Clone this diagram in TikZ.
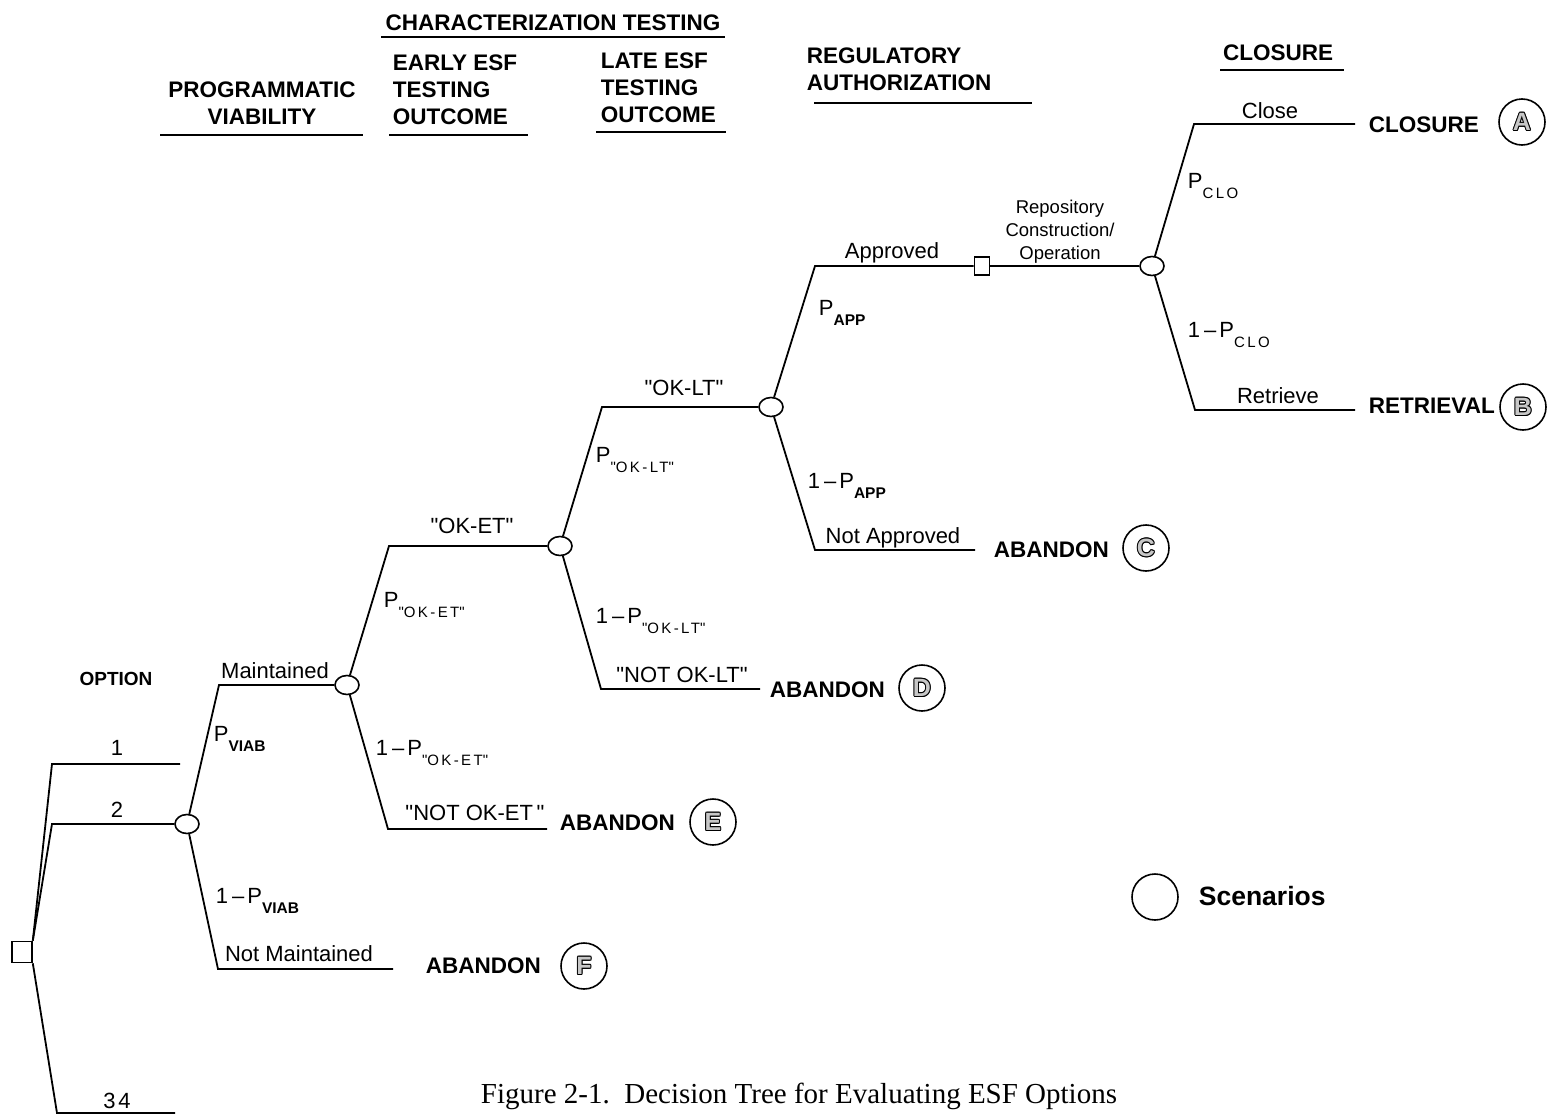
\documentclass[tikz,border=0pt]{standalone}
\usepackage{fontspec}
\setmainfont{Liberation Sans}
\newfontfamily\capfont{Liberation Serif}
\newfontfamily\qfont{Liberation Sans}[Ligatures=TeXOff]
\usetikzlibrary{shapes.geometric}
\newcommand\dq{{\qfont\symbol{34}}}
\newcommand\subb[1]{\raisebox{-10pt}{\fontsize{15.5}{15.5}\selectfont\bfseries #1}}
\newcommand\subr[1]{\raisebox{-10pt}{\fontsize{15}{15}\selectfont\addfontfeature{LetterSpace=16}#1}}
\newcommand\omn{1\kern4pt--\kern3pt}
\newcommand\olet[1]{{\def\oo##1##2{\rlap{\kern##1\raisebox{##2}{#1}}}%
 \oo{1pt}{0pt}\oo{-1pt}{0pt}\oo{0pt}{1pt}\oo{0pt}{-1pt}%
 \oo{0.7pt}{0.7pt}\oo{-0.7pt}{0.7pt}\oo{0.7pt}{-0.7pt}\oo{-0.7pt}{-0.7pt}%
 \textcolor{black!22}{#1}}}
\begin{document}
\begin{tikzpicture}[x=1pt,y=-1pt,line width=1.8pt,
  chance/.style={ellipse,draw,minimum width=24pt,minimum height=19pt,inner sep=0pt,line width=1.6pt,fill=white},
  dsq/.style={rectangle,draw,minimum width=20pt,minimum height=21pt,inner sep=0pt,line width=1.6pt,fill=white},
  dsqs/.style={rectangle,draw,minimum width=15pt,minimum height=18pt,inner sep=0pt,line width=1.6pt,fill=white},
  lbl/.style={font=\fontsize{22}{22}\selectfont,anchor=base,inner sep=0pt},
  small/.style={font=\fontsize{18.5}{23}\selectfont,anchor=north,inner sep=0pt,align=center},
  prob/.style={font=\fontsize{22}{22}\selectfont,anchor=base west,inner sep=0pt},
  hdr/.style={font=\fontsize{22.5}{27}\selectfont\bfseries,inner sep=0pt},
  outc/.style={font=\fontsize{22.5}{27}\selectfont\bfseries,anchor=base west,inner sep=0pt},
  scen/.style={circle,draw,minimum size=46pt,inner sep=0pt,line width=1.6pt,font=\fontsize{25}{25}\selectfont\bfseries},
  uline/.style={line width=2pt}]
\useasboundingbox (0,0) rectangle (1548,1116);
% ---------- headers ----------
\node[hdr,anchor=base] (hct) at (553,31) {CHARACTERIZATION TESTING};
\draw[uline] (381,37) -- (725,37);
\node[hdr,anchor=north,align=center] (hpv) at (262,81) {PROGRAMMATIC\\VIABILITY};
\draw[uline] (160,135) -- (363,135);
\node[hdr,anchor=north west,align=left] (het) at (392,54) {EARLY ESF\\TESTING\\OUTCOME};
\draw[uline] (389,135) -- (528,135);
\node[hdr,anchor=north west,align=left] (hlt) at (600,52) {LATE ESF\\TESTING\\OUTCOME};
\draw[uline] (596,132) -- (726,132);
\node[hdr,anchor=north west,align=left] (hra) at (806,47) {REGULATORY\\AUTHORIZATION};
\draw[uline] (814,103) -- (1032,103);
\node[hdr,anchor=base] (hcl) at (1278,60) {CLOSURE};
\draw[uline] (1220,70) -- (1344,70);
% ---------- tree nodes ----------
\node[dsq] (s1) at (22,952) {};
\coordinate (o1k) at (52,764); \coordinate (o1e) at (180,764);
\coordinate (o2k) at (52,824);
\coordinate (o34k) at (57,1113); \coordinate (o34e) at (175,1113);
\node[chance] (c1) at (187,824) {};
\coordinate (c1u) at (219,685);
\coordinate (c1d) at (218,969); \coordinate (c1de) at (393,969);
\node[chance] (c2) at (347,685) {};
\coordinate (c2u) at (389,546);
\coordinate (c2d) at (388,829); \coordinate (c2de) at (547,829);
\node[chance] (c3) at (560,546) {};
\coordinate (c3u) at (602,407);
\coordinate (c3d) at (601,689); \coordinate (c3de) at (760,689);
\node[chance] (c4) at (771,407) {};
\coordinate (c4u) at (815,266);
\coordinate (c4d) at (815,550); \coordinate (c4de) at (975,550);
\node[dsqs] (s2) at (982,266) {};
\node[chance] (c5) at (1152,266) {};
\coordinate (c5u) at (1194,124); \coordinate (c5ue) at (1355,124);
\coordinate (c5d) at (1195,410); \coordinate (c5de) at (1355,410);
% ---------- branches ----------
\draw (s1.north east) -- (o1k) -- (o1e);
\draw (s1.north east) -- (o2k) -- (c1);
\draw (s1.south east) -- (o34k) -- (o34e);
\draw (c1) -- (c1u) -- (c2);
\draw (c1) -- (c1d) -- (c1de);
\draw (c2) -- (c2u) -- (c3);
\draw (c2) -- (c2d) -- (c2de);
\draw (c3) -- (c3u) -- (c4);
\draw (c3) -- (c3d) -- (c3de);
\draw (c4) -- (c4u) -- (s2);
\draw (s2) -- (c5);
\draw (c4) -- (c4d) -- (c4de);
\draw (c5) -- (c5u) -- (c5ue);
\draw (c5) -- (c5d) -- (c5de);
% ---------- branch labels ----------
\node[font=\fontsize{19}{19}\selectfont\bfseries,anchor=base,inner sep=0pt] (opt) at (116,685) {OPTION};
\node[lbl] (n1) at (117,755) {1};
\node[lbl] (n2) at (117,817) {2};
\node[lbl] (n34) at (117,1108) {3\kern3pt4};
\node[lbl] (lm) at (275,678) {Maintained};
\node[lbl] (lnm) at (299,961) {Not Maintained};
\node[lbl] (lok) at (472,533) {\dq OK-ET\dq};
\node[lbl] (lnok) at (475,820) {\dq NOT OK-ET\,\dq};
\node[lbl] (lol) at (684,395) {\dq OK-LT\dq};
\node[lbl] (lnol) at (682,682) {\dq NOT OK-LT\dq};
\node[lbl] (lap) at (892,258) {Approved};
\node[lbl] (lnap) at (893,543) {Not Approved};
\node[lbl] (lcl) at (1270,118) {Close};
\node[lbl] (lre) at (1278,403) {Retrieve};
\node[small] (lrc) at (1060,199) {Repository\\Construction/\\Operation};
% ---------- probabilities ----------
\node[prob] (p1) at (213,741) {P\subb{VIAB}};
\node[prob] (p1n) at (215,903) {\omn P\subb{VIAB}};
\node[prob] (p2) at (383,607) {P\subr{\dq OK-ET\dq}};
\node[prob] (p2n) at (375,755) {\omn P\subr{\dq OK-ET\dq}};
\node[prob] (p3) at (595,462) {P\subr{\dq OK-LT\dq}};
\node[prob] (p3n) at (595,623) {\omn P\subr{\dq OK-LT\dq}};
\node[prob] (p4) at (818,315) {P\subb{APP}};
\node[prob] (p4n) at (807,488) {\omn P\subb{APP}};
\node[prob] (p5) at (1187,188) {P\subr{CLO}};
\node[prob] (p5n) at (1187,337) {\omn P\subr{CLO}};
% ---------- outcomes ----------
\node[outc] (ocf) at (425,973) {ABANDON};
\node[scen] (sf) at (584,966) {\olet{F}};
\node[outc] (oce) at (559,830) {ABANDON};
\node[scen] (se) at (713,822) {\olet{E}};
\node[outc] (ocd) at (769,697) {ABANDON};
\node[scen] (sd) at (922,688) {\olet{D}};
\node[outc] (occ) at (993,557) {ABANDON};
\node[scen] (sc) at (1146,548) {\olet{C}};
\node[outc] (oca) at (1368,132) {CLOSURE};
\node[scen] (sa) at (1522,122) {\olet{A}};
\node[outc] (ocb) at (1368,413) {RETRIEVAL};
\node[scen] (sb) at (1523,407) {\olet{B}};
% ---------- legend ----------
\node[scen] (leg) at (1155,897) {};
\node[font=\fontsize{26.5}{26.5}\selectfont\bfseries,anchor=base west,inner sep=0pt] (legt) at (1198,905) {Scenarios};
% ---------- caption ----------
\node[font=\capfont\fontsize{29}{29}\selectfont,anchor=base,inner sep=0pt] (cap) at (799,1103) {Figure 2-1.\ \ Decision Tree for Evaluating ESF Options};
\end{tikzpicture}
\end{document}
